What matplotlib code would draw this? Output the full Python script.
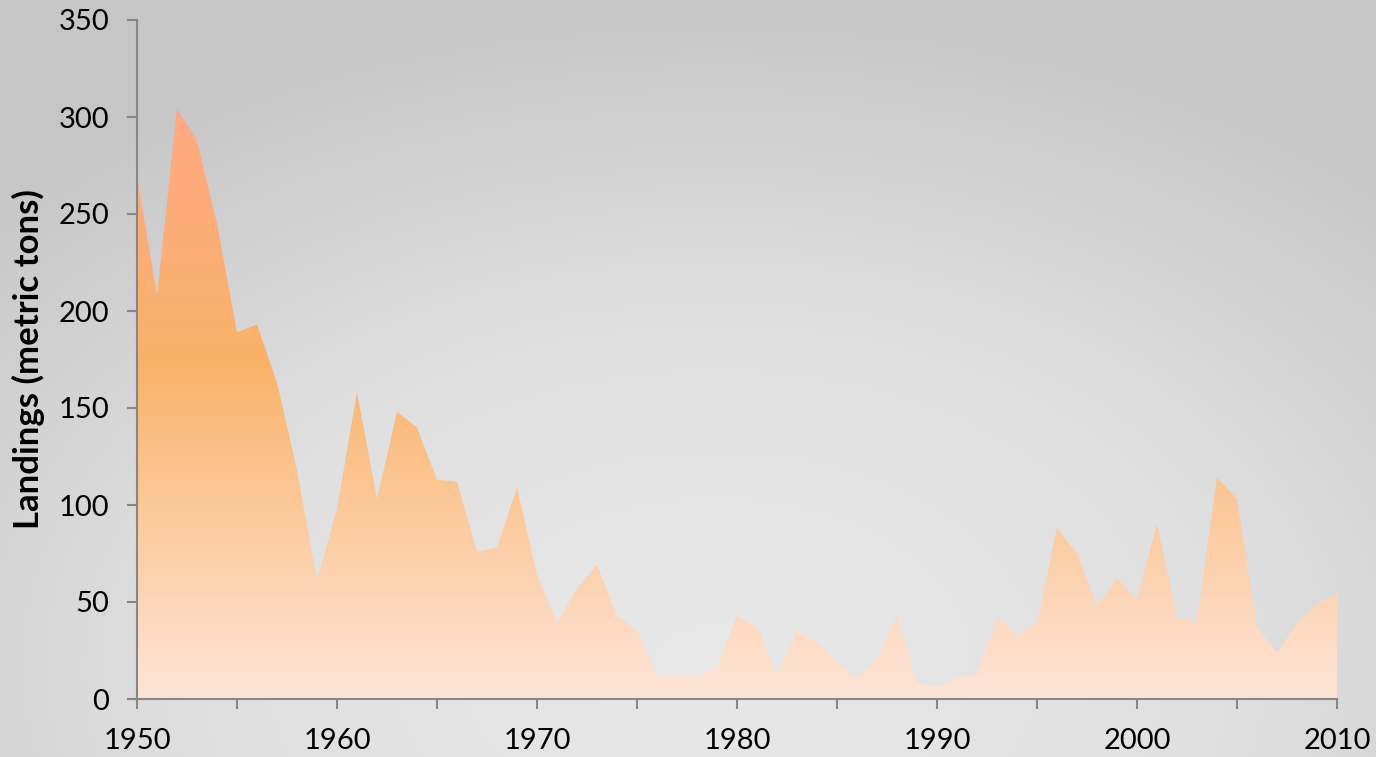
import numpy as np
import matplotlib.pyplot as plt
from matplotlib.colors import LinearSegmentedColormap
from matplotlib.path import Path
from matplotlib.patches import PathPatch

# ==========================================
# Datos
# ==========================================
anios = np.arange(1950, 2011)
capturas = [269, 208, 304, 288, 245, 189, 193, 163, 118, 61,
            98, 158, 103, 148, 140, 113, 112, 76, 78, 109,
            64, 39, 57, 69, 43, 35, 12, 12, 12, 16,
            43, 37, 13, 35, 29, 19, 11, 21, 42, 9,
            6, 11, 13, 42, 33, 39, 88, 75, 48, 62,
            51, 90, 42, 40, 114, 103, 37, 24, 39, 49,
            54]
ticks_mayores = [1950, 1960, 1970, 1980, 1990, 2000, 2010]
ticks_y = [0, 50, 100, 150, 200, 250, 300, 350]

plt.rcParams['font.family'] = ['Lato', 'DejaVu Sans']

fig = plt.figure(figsize=(13.76, 7.57), dpi=100)

# Fondo con degradado radial gris
fondo = fig.add_axes([0, 0, 1, 1])
fondo.set_axis_off()
xx, yy = np.meshgrid(np.linspace(0, 1, 400), np.linspace(0, 1, 220))
r = np.sqrt(((xx - 0.52) / 0.75) ** 2 + ((yy - 0.12) / 0.9) ** 2)
r = np.clip(r, 0, 1)
cmap_fondo = LinearSegmentedColormap.from_list('fondo', ['#e8e8e8', '#e0e0e0', '#c6c6c6'])
fondo.imshow(r, cmap=cmap_fondo, origin='lower', extent=[0, 1, 0, 1], aspect='auto', vmin=0, vmax=1)

ax = fig.add_axes([137 / 1376, 1 - 699 / 757, 1200 / 1376, 679 / 757])
ax.patch.set_alpha(0)

# Área con degradado vertical, recortada por el polígono de los datos
cmap_area = LinearSegmentedColormap.from_list(
    'area', [(0.0, '#fee4d8'), (0.15, '#fdd5b6'), (0.3, '#fcc795'),
             (0.5, '#f9b269'), (0.7, '#fdad78'), (0.9, '#ffa883'), (1.0, '#ffa883')])
verts = np.vstack([[anios[0], 0], np.column_stack([anios, capturas]), [anios[-1], 0]])
clip = PathPatch(Path(verts), facecolor='none', edgecolor='none', transform=ax.transData)
ax.add_patch(clip)
grad = np.linspace(0, 1, 400).reshape(-1, 1)
img = ax.imshow(grad, cmap=cmap_area, origin='lower', aspect='auto',
                extent=[1950, 2010, 0, 350], vmin=0, vmax=1, zorder=1)
img.set_clip_path(clip)

ax.set_xlim(1950, 2010)
ax.set_ylim(0, 350)
ticks_x = np.arange(1950, 2011, 5)
ax.set_xticks(ticks_x)
ax.set_xticklabels([str(a) if a in ticks_mayores else '' for a in ticks_x])
ax.set_yticks(ticks_y)

for lado in ['top', 'right']:
    ax.spines[lado].set_visible(False)
for lado in ['left', 'bottom']:
    ax.spines[lado].set_color('#868686')
    ax.spines[lado].set_linewidth(1.5)
ax.tick_params(axis='both', direction='out', length=7, width=1.5, color='#868686',
               labelsize=21, labelcolor='black')
ax.tick_params(axis='x', pad=14)
ax.tick_params(axis='y', pad=13)
ax.set_ylabel('Landings (metric tons)', fontsize=25, fontweight='bold', labelpad=10)

fig.savefig('out.png', dpi=100)
